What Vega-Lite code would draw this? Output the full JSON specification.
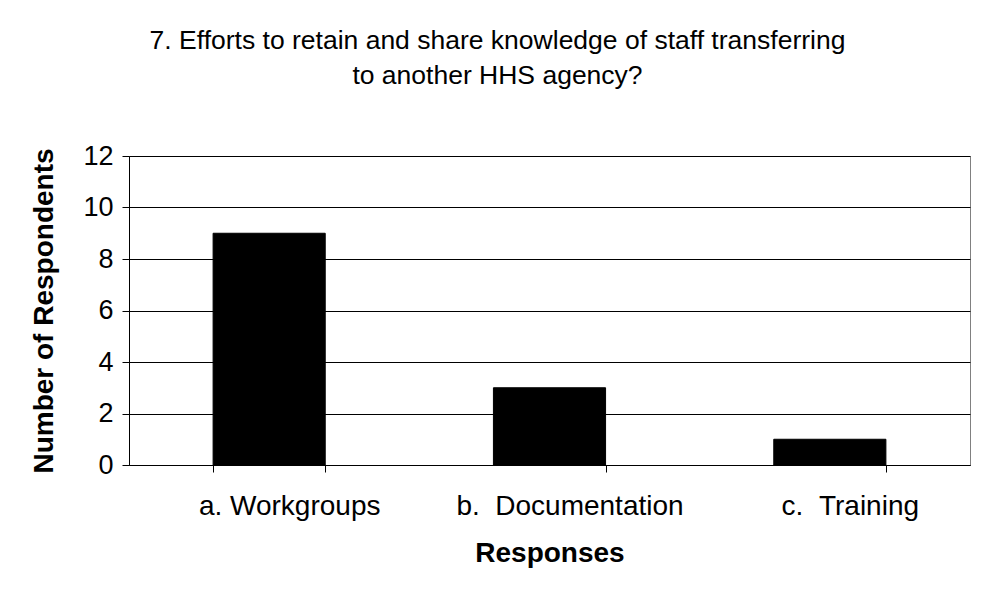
{
  "$schema": "https://vega.github.io/schema/vega-lite/v6.json",
  "width": 841,
  "height": 309,
  "autosize": {"type": "none"},
  "padding": {"left": 129, "top": 156, "right": 20, "bottom": 133},
  "background": "white",
  "title": {
    "text": ["7. Efforts to retain and share knowledge of staff transferring", "to another HHS agency?"],
    "font": "Liberation Sans",
    "fontSize": 26.5,
    "fontWeight": "normal",
    "color": "black",
    "anchor": "middle",
    "dx": -52,
    "lineHeight": 35,
    "offset": 53
  },
  "data": {
    "values": [
      {"response": "a. Workgroups", "count": 9},
      {"response": "b. \u00a0Documentation", "count": 3},
      {"response": "c. \u00a0Training", "count": 1}
    ]
  },
  "mark": {"type": "bar", "color": "black", "stroke": "black", "strokeWidth": 1},
  "encoding": {
    "x": {
      "field": "response",
      "type": "nominal",
      "sort": null,
      "scale": {"paddingInner": 0.6, "paddingOuter": 0.3},
      "axis": {
        "title": "Responses",
        "labelAngle": 0,
        "labelLimit": 0,
        "labelOffset": 20,
        "tickBand": "extent",
        "tickSize": 7,
        "tickColor": "black",
        "domainColor": "black",
        "labelFont": "Liberation Sans",
        "labelFontSize": 28,
        "labelColor": "black",
        "labelPadding": 20,
        "titleFont": "Liberation Sans",
        "titleFontSize": 28,
        "titleFontWeight": "bold",
        "titleColor": "black",
        "titlePadding": 19
      }
    },
    "y": {
      "field": "count",
      "type": "quantitative",
      "scale": {"domain": [0, 12], "nice": false},
      "axis": {
        "title": "Number of Respondents",
        "values": [0, 2, 4, 6, 8, 10, 12],
        "grid": true,
        "gridColor": "black",
        "gridWidth": 1,
        "tickSize": 7,
        "tickColor": "black",
        "domainColor": "black",
        "labelFont": "Liberation Sans",
        "labelFontSize": 27,
        "labelColor": "black",
        "labelPadding": 9,
        "titleFont": "Liberation Sans",
        "titleFontSize": 28,
        "titleFontWeight": "bold",
        "titleColor": "black",
        "titlePadding": 24
      }
    }
  },
  "config": {
    "view": {"stroke": "#808080", "strokeWidth": 1}
  }
}
